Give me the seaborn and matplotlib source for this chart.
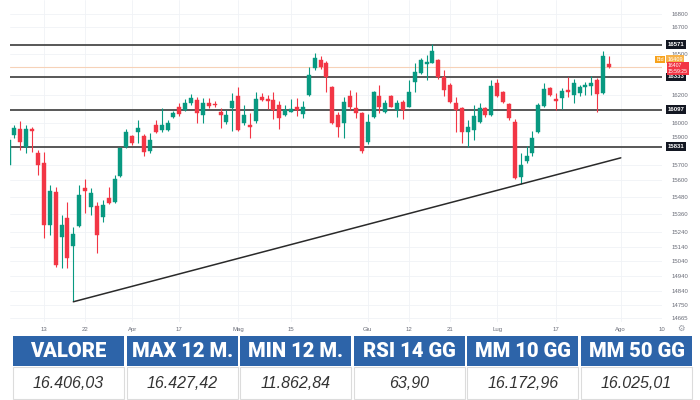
import numpy as np
import pandas as pd
import matplotlib.pyplot as plt
import matplotlib.patches as mpatches
import matplotlib.ticker as mticker
import seaborn as sns

# giorni di borsa 2023 (chiuso Venerdi/Lunedi di Pasqua e 1 maggio)
holidays = ['2023-04-07', '2023-04-10', '2023-05-01']
days = pd.bdate_range('2023-03-03', '2023-08-14')
days = days[~days.isin(pd.to_datetime(holidays))]

# candele giornaliere dal 3 marzo al 28 luglio
opens = [15704, 15916, 15959, 15831, 15955, 15788, 15718, 15288, 15515, 15206, 15336,
         15145, 15281, 15543, 15412, 15419, 15343, 15474, 15446, 15627, 15831,
         15909, 15937, 15909, 15802, 15987, 15951, 15951, 16044, 16115, 16094, 16144,
         16166, 16058, 16144, 16137, 16080, 16008, 16108,
         16195, 16001, 15987, 16015, 16190, 16173, 16166, 16130, 16058, 16080, 16118,
         16065, 16203, 16400, 16458, 16436, 16261, 16058, 16001, 16195, 16108, 16072,
         15866, 16044, 16195, 16080, 16195, 16094, 16152, 16118, 16297, 16363, 16429,
         16436, 16458, 16334, 16275, 16142, 16108, 15937, 15951, 16008, 16108, 16058,
         16290, 16224, 16137, 16008, 15620, 15732, 15788, 15937, 16122, 16253, 16170,
         16181, 16239, 16203, 16217, 16261, 16268, 16312, 16217, 16429]
highs = [15902, 15987, 16015, 15987, 15973, 15809, 15795, 15564, 15550, 15356, 15446,
         15274, 15564, 15606, 15543, 15446, 15460, 15550, 15634, 15831, 15959,
         15916, 16022, 15923, 15930, 16022, 16108, 16022, 16087, 16144, 16173, 16210,
         16190, 16180, 16180, 16155, 16108, 16090, 16217,
         16261, 16130, 16072, 16224, 16217, 16203, 16224, 16155, 16130, 16173, 16180,
         16159, 16407, 16510, 16488, 16448, 16268, 16080, 16188, 16239, 16224, 16080,
         16065, 16231, 16275, 16166, 16203, 16166, 16166, 16312, 16436, 16470, 16495,
         16577, 16465, 16385, 16290, 16188, 16118, 16022, 16130, 16144, 16118, 16312,
         16319, 16232, 16144, 16030, 15788, 15838, 15944, 16144, 16290, 16261, 16217,
         16253, 16333, 16319, 16275, 16297, 16340, 16326, 16527, 16488]
lows = [15683, 15894, 15809, 15788, 15795, 15634, 15200, 15220, 15004, 14997, 14997,
        14777, 15274, 15370, 15356, 15098, 15309, 15432, 15439, 15620, 15823,
        15845, 15859, 15767, 15788, 15930, 15937, 15944, 16036, 16051, 16087, 16130,
        16001, 16001, 16108, 16115, 15966, 15995, 15944,
        15944, 15987, 15894, 16001, 16155, 16101, 16029, 15958, 16051, 16077, 16051,
        16036, 16195, 16385, 16392, 16224, 15994, 15902, 15894, 16094, 16036, 15788,
        15852, 16036, 16072, 16072, 16113, 16044, 16029, 16113, 16224, 16355, 16312,
        16432, 16320, 16195, 16145, 15937, 15859, 15833, 15880, 16001, 16044, 16051,
        16190, 16145, 16022, 15606, 15571, 15718, 15767, 15930, 16118, 16195, 16094,
        16098, 16190, 16142, 16195, 16203, 16203, 16080, 16210, 16400]
closes = [15880, 15966, 15866, 15959, 15944, 15704, 15288, 15522, 15017, 15288, 15064,
          15227, 15494, 15522, 15508, 15220, 15425, 15439, 15606, 15823, 15937,
          15859, 15966, 15795, 15880, 15937, 15987, 16001, 16072, 16065, 16144, 16180,
          16072, 16144, 16123, 16130, 16058, 16058, 16159,
          15951, 16058, 15969, 16173, 16166, 16155, 16094, 16036, 16094, 16101, 16094,
          16115, 16348, 16473, 16407, 16334, 16001, 15973, 16152, 16115, 16072, 15802,
          16008, 16224, 16115, 16144, 16118, 16142, 16094, 16224, 16370, 16458, 16443,
          16524, 16334, 16239, 16152, 16094, 15937, 15973, 16051, 16108, 16058, 16268,
          16195, 16152, 16036, 15613, 15704, 15767, 15894, 16130, 16246, 16203, 16155,
          16232, 16224, 16290, 16261, 16275, 16290, 16210, 16488, 16407]

levels = [16571, 16333, 16097, 15831]
last_price = 16407
trend_dates = ['2023-03-20', '2023-08-01']
trend_values = [14771, 15753]

ytick_values = [16800, 16700, 16500, 16200, 16000, 15900, 15700, 15600, 15480,
                15360, 15240, 15140, 15040, 14940, 14840, 14750, 14665]
xtick_dates = ['2023-03-13', '2023-03-22', '2023-04-03', '2023-04-17', '2023-05-02',
               '2023-05-15', '2023-06-01', '2023-06-12', '2023-06-21', '2023-07-03',
               '2023-07-17', '2023-08-01', '2023-08-10']
xtick_labels = ['13', '22', 'Apr', '17', 'Mag', '15', 'Giu', '12', '21', 'Lug',
                '17', 'Ago', '10']

table_headers = ['VALORE', 'MAX 12 M.', 'MIN 12 M.', 'RSI 14 GG', 'MM 10 GG', 'MM 50 GG']
table_values = ['16.406,03', '16.427,42', '11.862,84', '63,90', '16.172,96', '16.025,01']

sns.set_theme(style='white')
plt.rcParams['font.family'] = ['Liberation Sans', 'DejaVu Sans']

GREEN = '#089981'
RED = '#f23645'

df = pd.DataFrame({'open': opens, 'high': highs, 'low': lows, 'close': closes},
                  index=days[:len(opens)])
df['x'] = np.arange(len(df))
df['up'] = df['close'] >= df['open']
df['color'] = np.where(df['up'], GREEN, RED)

def pos(d):
    return days.get_loc(pd.Timestamp(d))

fig = plt.figure(figsize=(7, 4), dpi=100)
ax = fig.add_axes([10 / 700, 78 / 400, 652 / 700, 322 / 400])
ax.set_yscale('log')

# griglia leggera
for v in ytick_values:
    ax.axhline(v, color='#f0f2f6', lw=0.6, zorder=0)
for d in xtick_dates:
    ax.axvline(pos(d), color='#f0f2f6', lw=0.6, zorder=0)

# linea ultimo prezzo
ax.axhline(last_price, color='#f6d2b8', lw=0.8, zorder=1)

# livelli orizzontali
for lv in levels:
    ax.axhline(lv, color='#4a4a4a', lw=1.3, zorder=2)

# candele
ax.vlines(df['x'], df['low'], df['high'], colors=df['color'], lw=0.8, zorder=3)
bottom = df[['open', 'close']].min(axis=1)
top = df[['open', 'close']].max(axis=1)
height = np.maximum(top - bottom, bottom * 0.0005)
ax.bar(df['x'], height, bottom=bottom, width=0.68, color=df['color'],
       edgecolor=df['color'], lw=0.3, zorder=4)

# trendline
sns.lineplot(x=[pos(d) for d in trend_dates], y=trend_values, ax=ax,
             color='#2a2a2a', lw=1.1, zorder=5)

ax.set_xlim(0.24, 110.7)
ax.set_ylim(14638, 16905)
for s in ax.spines.values():
    s.set_visible(False)

ax.yaxis.tick_right()
ax.yaxis.set_major_locator(mticker.FixedLocator(ytick_values))
ax.yaxis.set_minor_locator(mticker.NullLocator())
ax.yaxis.set_major_formatter(mticker.FixedFormatter([str(v) for v in ytick_values]))
ax.tick_params(axis='y', length=0, pad=7, labelsize=4.3, labelcolor='#6a6d78')
ax.set_xticks([pos(d) for d in xtick_dates])
ax.set_xticklabels(xtick_labels)
ax.tick_params(axis='x', length=0, pad=3.5, labelsize=4.3, labelcolor='#6a6d78')
ax.set_xlabel('')
ax.set_ylabel('')

# etichette dei livelli
for lv in levels:
    ax.annotate(str(lv), xy=(1, lv), xycoords=ax.get_yaxis_transform(),
                xytext=(4, 0), textcoords='offset points', ha='left', va='center',
                fontsize=4.3, color='white', fontweight='bold',
                bbox=dict(boxstyle='square,pad=0.3', fc='#131722', ec='none'))

ax.annotate('Bid', xy=(1, 16462), xycoords=ax.get_yaxis_transform(),
            xytext=(-4, 0), textcoords='offset points', ha='left', va='center',
            fontsize=3.8, color='white',
            bbox=dict(boxstyle='square,pad=0.25', fc='#f7a21b', ec='none'))
ax.annotate('16409', xy=(1, 16462), xycoords=ax.get_yaxis_transform(),
            xytext=(4, 0), textcoords='offset points', ha='left', va='center',
            fontsize=4.0, color='white',
            bbox=dict(boxstyle='square,pad=0.25', fc='#f7b24a', ec='none'))
ax.annotate(f'{last_price}\n15:59:25', xy=(1, 16395), xycoords=ax.get_yaxis_transform(),
            xytext=(4, 0), textcoords='offset points', ha='left', va='center',
            fontsize=3.7, color='white', linespacing=1.15,
            bbox=dict(boxstyle='square,pad=0.2', fc=RED, ec='none'))
fig.text(681 / 700, 1 - 328 / 400, '\u2699', ha='center', va='center',
         fontsize=6, color='#9598a1', family=['DejaVu Sans'])

# tabella riassuntiva
tax = fig.add_axes([0, 0, 1, 66 / 400])
tax.set_xlim(0, 700)
tax.set_ylim(400, 334)
tax.axis('off')
cell_w = 111
for i, (h, v) in enumerate(zip(table_headers, table_values)):
    x0 = 13 + i * 113.6
    tax.add_patch(mpatches.Rectangle((x0, 336), cell_w, 30, fc='#2d64a9', ec='none'))
    tax.add_patch(mpatches.Rectangle((x0, 367), cell_w, 31.5, fc='white',
                                     ec='#dcdcdc', lw=0.8))
    tax.text(x0 + cell_w / 2, 351.5, h, ha='center', va='center', fontsize=14.5,
             fontweight='heavy', color='white', family=['Roboto', 'DejaVu Sans'])
    tax.text(x0 + cell_w / 2, 383, v, ha='center', va='center', fontsize=11.5,
             fontstyle='italic', color='#333333')

fig.savefig('out.png', dpi=100)
